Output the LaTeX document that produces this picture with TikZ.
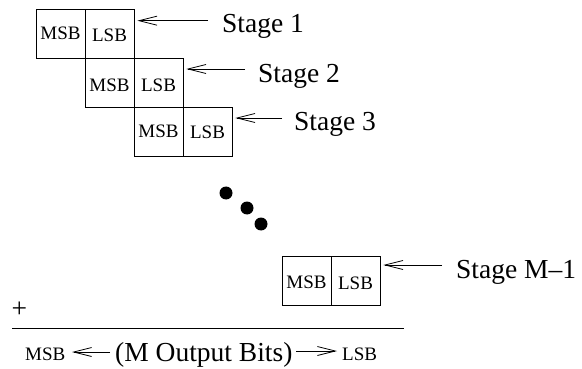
\documentclass[tikz,border=0pt]{standalone}
\usepackage{fontspec}
\setmainfont{Liberation Serif}
\usetikzlibrary{arrows.meta}
\begin{document}
\begin{tikzpicture}[x=1pt,y=-1pt,
  cell/.style={draw,line width=0.8pt,minimum size=49pt,inner sep=0pt},
  small/.style={font=\fontsize{19}{22}\selectfont,inner sep=0pt,anchor=base},
  big/.style={font=\fontsize{27.5}{30}\selectfont,inner sep=0pt,anchor=base west},
  barb/.style={line width=0.8pt,-{Straight Barb[length=18pt,width=9pt,line width=0.8pt]}}]
\useasboundingbox (0,0) rectangle (582,369);

% stage 1
\node[cell] (m1) at (60.5,33.5) {};
\node[cell] (l1) at (109.5,33.5) {};
\node[small] (tm1) at ([yshift=-6.5pt]m1.center) {MSB};
\node[small] (tl1) at ([yshift=-8.5pt]l1.center) {LSB};
\node[big] (s1) at (222,33) {Stage 1};
\coordinate (e1) at (208,20.7);
\draw[barb,shorten >=3pt] (e1) -- (e1 -| l1.east);

% stage 2
\node[cell] (m2) at (109.5,82.5) {};
\node[cell] (l2) at (158.5,82.5) {};
\node[small] (tm2) at ([yshift=-9pt]m2.center) {MSB};
\node[small] (tl2) at ([yshift=-9pt]l2.center) {LSB};
\node[big] (s2) at (258,83) {Stage 2};
\coordinate (e2) at (245,69);
\draw[barb,shorten >=3pt] (e2) -- (e2 -| l2.east);

% stage 3
\node[cell] (m3) at (158.5,131.5) {};
\node[cell] (l3) at (207.5,131.5) {};
\node[small] (tm3) at ([yshift=-6.5pt]m3.center) {MSB};
\node[small] (tl3) at ([yshift=-7.5pt]l3.center) {LSB};
\node[big] (s3) at (294,131) {Stage 3};
\coordinate (e3) at (282,118);
\draw[barb,shorten >=3pt] (e3) -- (e3 -| l3.east);

% ellipsis dots
\fill (226,193) circle (6.5);
\fill (247,208) circle (6.5);
\fill (261,224) circle (6.5);

% stage M-1
\node[cell] (m4) at (306.5,280.5) {};
\node[cell] (l4) at (355.5,280.5) {};
\node[small] (tm4) at ([yshift=-7.5pt]m4.center) {MSB};
\node[small] (tl4) at ([yshift=-9pt]l4.center) {LSB};
\node[big] (s4) at (456,278) {Stage M--1};
\coordinate (e4) at (442,265);
\draw[barb,shorten >=3pt] (e4) -- (e4 -| l4.east);

% sum line
\node[font=\fontsize{27.5}{30}\selectfont,inner sep=0pt] (plus) at (19.5,310) {+};
\draw[line width=0.9pt] (12,328) -- (404,328);

% output bits
\node[small,anchor=base west] (om) at (25,360) {MSB};
\node[big] (ob) at (115,361) {(M Output Bits)};
\node[small,anchor=base west] (ol) at (342,360) {LSB};
\coordinate (bl) at (110,352);
\coordinate (br) at (296,351);
\draw[barb] (bl) -- (72,352);
\draw[barb] (br) -- (337,351);
\end{tikzpicture}
\end{document}
